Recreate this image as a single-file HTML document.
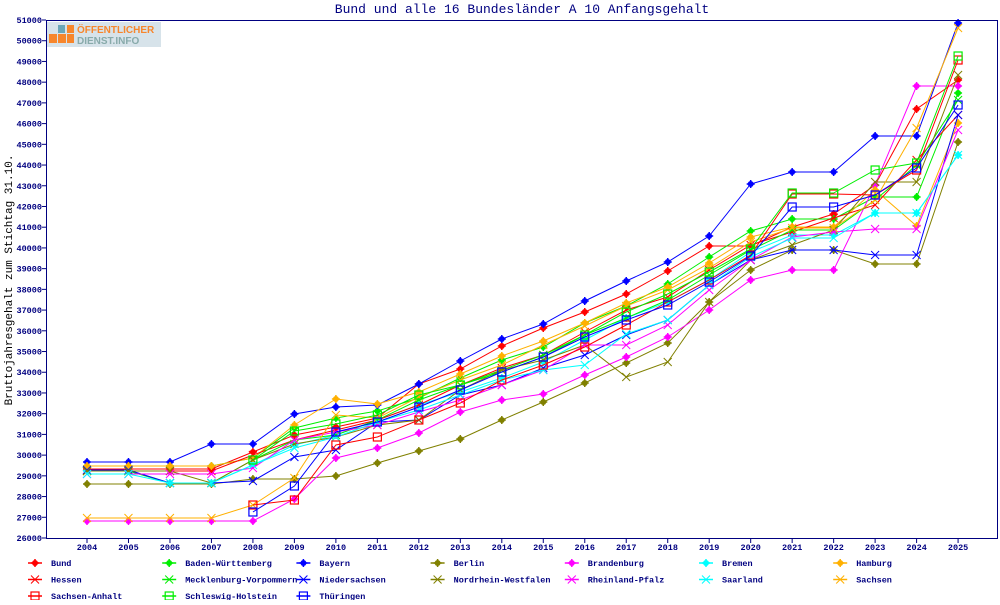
<!DOCTYPE html>
<html><head><meta charset="utf-8"><style>
body{margin:0;background:#fff;}
svg text{font-family:"Liberation Mono","DejaVu Sans Mono",monospace;}
</style></head><body>
<svg id="s" width="1000" height="600" xmlns="http://www.w3.org/2000/svg">
<rect width="1000" height="600" fill="#fff"/>
<text x="522" y="13" font-size="13" fill="#000080" text-anchor="middle">Bund und alle 16 Bundesländer A 10 Anfangsgehalt</text>
<rect x="47" y="22" width="114" height="25" fill="#d7e3ea"/>
<rect x="49" y="34" width="8" height="9" fill="#f7862c"/><rect x="58" y="34" width="8" height="9" fill="#f7862c"/><rect x="67" y="34" width="7" height="9" fill="#f7862c"/>
<rect x="58" y="25" width="7" height="8" fill="#6aa6b8"/><rect x="67" y="25" width="7" height="8" fill="#f7862c"/>
<text x="77" y="33" font-size="10" font-weight="bold" fill="#f7862c" style="font-family:'Liberation Sans',sans-serif">ÖFFENTLICHER</text>
<text x="77" y="44" font-size="10" font-weight="bold" fill="#8aa" style="font-family:'Liberation Sans',sans-serif">DIENST.INFO</text>
<text transform="translate(12,280) rotate(-90)" font-size="11" fill="#000" text-anchor="middle">Bruttojahresgehalt zum Stichtag 31.10.</text>
<g id="ax"></g><g id="ser"></g><g id="leg"></g>
<rect x="46.5" y="20.5" width="951" height="518" fill="none" stroke="#000080" stroke-width="1"/>
</svg>
<script>
const NS="http://www.w3.org/2000/svg";
function el(p,t,a,txt){const e=document.createElementNS(NS,t);for(const k in a)e.setAttribute(k,a[k]);if(txt!==undefined)e.textContent=txt;p.appendChild(e);return e;}
const ax=document.getElementById('ax'),ser=document.getElementById('ser'),leg=document.getElementById('leg');
const X=i=>87+41.48*i, Y=v=>538-(v-26000)*0.02072;
for(let v=26000;v<=51000;v+=1000){const y=Y(v);el(ax,'line',{x1:42,x2:46,y1:y,y2:y,stroke:'#000080'});el(ax,'text',{x:42,y:y+3,'font-size':8.5,'font-weight':'bold',fill:'#000080','text-anchor':'end'},v);}
for(let i=0;i<22;i++){const x=X(i);el(ax,'line',{x1:x,x2:x,y1:538,y2:543,stroke:'#000080'});el(ax,'text',{x:x,y:550,'font-size':8.5,'font-weight':'bold',fill:'#000080','text-anchor':'middle'},2004+i);}
const S=[
["Bund","#ff0000","f",[469,469,469,469,452,435,427,418,384,369,346,328,312,294,271,246,246,227,214,185,109,80]],
["Baden-Württemberg","#00ee00","f",[466,466,466,466,458,428,418,411,398,378,360,347,323,306,284,257,231,219,219,197,197,93]],
["Bayern","#0000ff","f",[462,462,462,444,444,414,407,405,384,361,339,324,301,281,262,236,184,172,172,136,136,23]],
["Berlin","#808000","f",[484,484,484,484,479,479,476,463,451,439,420,402,383,363,343,302,270,250,250,264,264,142]],
["Brandenburg","#ff00ff","f",[521,521,521,521,521,499,458,448,433,412,400,394,375,357,337,310,280,270,270,185,86,86]],
["Bremen","#00ffff","f",[471,471,483,483,465,445,435,420,405,392,378,362,340,318,302,280,252,235,235,213,213,155]],
["Hamburg","#ffb000","f",[466,466,466,466,458,425,399,404,392,374,356,341,323,303,287,263,237,227,227,190,226,123]],
["Hessen","#ff0000","x",[471,471,471,471,455,440,430,420,405,385,368,355,332,310,297,270,245,232,218,205,160,115]],
["Mecklenburg-Vorpommern","#00ee00","x",[471,471,483,483,460,440,435,420,400,385,370,355,335,318,300,275,250,230,230,200,165,100]],
["Niedersachsen","#0000ff","x",[470,470,483,483,481,457,450,422,420,395,385,368,355,335,320,285,260,250,250,255,255,115]],
["Nordrhein-Westfalen","#808000","x",[471,471,471,483,460,444,437,425,420,390,370,360,345,377,362,302,260,245,230,182,182,75]],
["Rheinland-Pfalz","#ff00ff","x",[474,474,474,474,468,440,432,425,412,400,385,370,345,345,325,290,260,237,232,229,229,130]],
["Saarland","#00ffff","x",[474,474,483,483,465,448,437,422,410,395,380,370,365,334,320,285,257,238,238,213,213,155]],
["Sachsen","#ffb000","x",[518,518,518,518,505,478,415,418,397,380,365,345,326,306,290,268,242,228,228,200,128,28]],
["Sachsen-Anhalt","#ff0000","s",[null,null,null,null,505,500,445,437,420,403,380,365,347,325,302,280,255,194,194,195,170,60]],
["Schleswig-Holstein","#00ee00","s",[null,null,null,null,460,431,424,415,395,385,372,357,335,312,294,272,249,193,193,170,163,56]],
["Thüringen","#0000ff","s",[null,null,null,null,512,486,432,422,407,390,372,357,337,320,305,282,256,207,207,195,168,105]]
];
function mark(g,t,x,y,c){
 if(t=='f'){el(g,'circle',{cx:x,cy:y,r:3,fill:c});el(g,'path',{d:`M${x-4} ${y}h8M${x} ${y-4}v8`,stroke:c,'stroke-width':1.5});}
 else if(t=='x'){el(g,'path',{d:`M${x-4} ${y-4}L${x+4} ${y+4}M${x-4} ${y+4}L${x+4} ${y-4}`,stroke:c,'stroke-width':1});}
 else el(g,'rect',{x:x-4,y:y-4,width:8,height:8,fill:'none',stroke:c,'stroke-width':1.2});
}
S.forEach((s,k)=>{const pts=[];s[3].forEach((y,i)=>{if(y!=null)pts.push([X(i),y]);});
 el(ser,'polyline',{points:pts.map(p=>p.join(',')).join(' '),fill:'none',stroke:s[1],'stroke-width':1});
 pts.forEach(p=>mark(ser,s[2],p[0],p[1],s[1]));
 const col=k%7,row=Math.floor(k/7);const lx=35+col*134.2,ly=563+row*16.5;
 el(leg,'line',{x1:lx-7,x2:lx+7,y1:ly,y2:ly,stroke:s[1],'stroke-width':1.5});mark(leg,s[2],lx,ly,s[1]);
 el(leg,'text',{x:lx+16,y:ly+3,'font-size':8.5,'font-weight':'bold',fill:'#000080'},s[0]);
});
</script>
</body></html>
